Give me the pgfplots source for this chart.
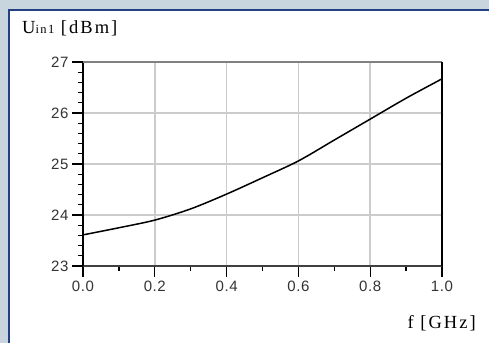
\documentclass[border=0pt]{standalone}
\usepackage{fontspec}
\setmainfont{Liberation Serif}
\setsansfont{Liberation Sans}
\usepackage{pgfplots}
\pgfplotsset{compat=1.18}
\definecolor{bgblue}{RGB}{200,212,222}
\definecolor{winblue}{RGB}{35,65,130}
\begin{document}
\begin{tikzpicture}[x=1pt,y=1pt]
\useasboundingbox (0,0) rectangle (489,343);
\fill[bgblue] (0,0) rectangle (489,343);
\fill[white] (9,0) rectangle (489,333);
\draw[winblue, line width=2pt] (9,0) -- (9,333) -- (489,333);
\begin{axis}[
  at={(83pt,77pt)}, anchor=south west,
  scale only axis, width=359pt, height=204pt,
  xmin=0, xmax=1, ymin=23, ymax=27,
  axis lines=left,
  x axis line style={black!75, line width=1.6pt, -},
  y axis line style={black, line width=1.6pt, -},
  xtick={0,0.2,0.4,0.6,0.8,1},
  ytick={23,24,25,26,27},
  minor x tick num=1, minor y tick num=4,
  tick align=outside,
  major tick length=11pt, minor tick length=5pt,
  every tick/.style={black, line width=1.3pt},
  xticklabel style={/pgf/number format/fixed, /pgf/number format/fixed zerofill, /pgf/number format/precision=1},
  ticklabel style={font=\sffamily\fontsize{15}{15}\selectfont\addfontfeature{LetterSpace=4}, text=black!80},
  /pgf/number format/assume math mode=true,
  grid=major,
  major grid style={black!20, line width=1.6pt},
  clip=false,
]
\addplot[black, line width=1.5pt, smooth] coordinates {
(0,23.61) (0.1,23.75) (0.2,23.90) (0.3,24.12) (0.4,24.41) (0.5,24.73)
(0.6,25.06) (0.7,25.47) (0.8,25.88) (0.9,26.29) (1.0,26.67)};
\draw[black!50, line width=1.6pt] (rel axis cs:0,1) -- (rel axis cs:1,1);
\draw[black, line width=1.3pt] (rel axis cs:1,0) -- (rel axis cs:1,1);
\end{axis}
\node[anchor=base west, inner sep=0pt, font=\fontsize{18.5}{18}\selectfont\addfontfeature{LetterSpace=11}] at (22,309) {U{\fontsize{12.5}{12}\selectfont\addfontfeature{LetterSpace=11}in1} [dBm]};
\node[anchor=base east, inner sep=0pt, font=\fontsize{18.5}{18}\selectfont\addfontfeature{LetterSpace=11}] at (476,15) {f [GHz]};
\end{tikzpicture}
\end{document}
